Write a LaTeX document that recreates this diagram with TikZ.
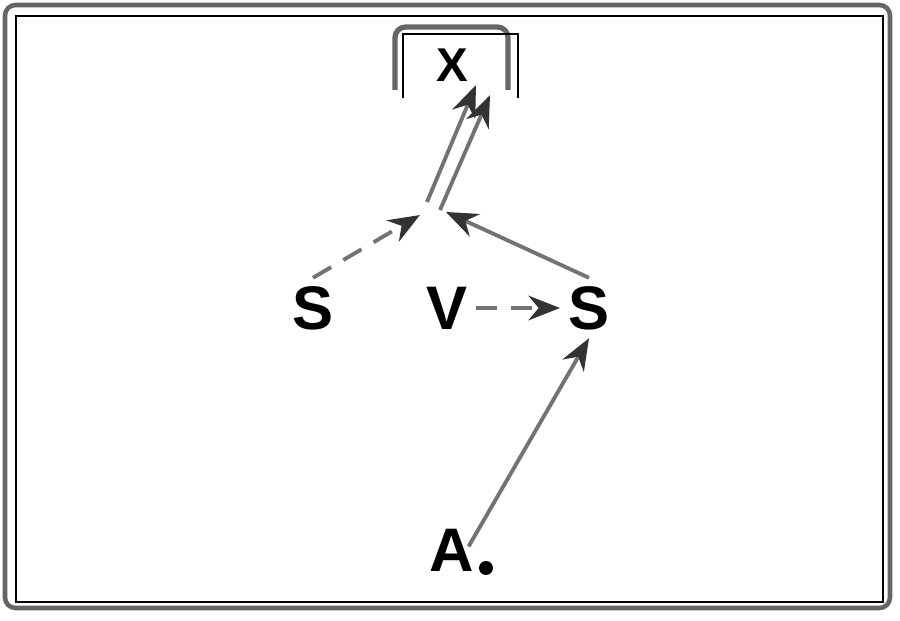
\documentclass[tikz,border=0pt]{standalone}
\usepackage{fontspec}
\setsansfont{Liberation Sans}
\usetikzlibrary{arrows,arrows.meta}
\tikzstyle{lien} = [-{Stealth[length=9pt,width=7pt,black!80]},line width=1.1pt,draw=black!55]
\tikzstyle{pointille} = [lien,dash pattern=on 6pt off 4pt]
\tikzstyle{lettre} = [font=\sffamily\bfseries\fontsize{17.5}{20}\selectfont,inner sep=2pt]

\begin{document}
\begin{tikzpicture}[thick]
	\useasboundingbox (0,0) rectangle (9,6.2);

	% cadre
	\draw[line width=1.3pt,black!60,rounded corners=3pt] (0.05,0.12) rectangle (8.90,6.15);
	\draw[line width=0.8pt] (0.16,0.18) rectangle (8.83,6.04);

	% boite de X
	\draw[line width=1.5pt,black!60,rounded corners=3pt] (3.95,5.30) -- (3.95,5.93) -- (5.08,5.93) -- (5.08,5.30);
	\draw[line width=0.8pt] (4.03,5.22) -- (4.03,5.86) -- (5.18,5.86) -- (5.18,5.22);

	\node[lettre,font=\sffamily\bfseries\fontsize{13.5}{16}\selectfont] (X) at (4.52,5.55) {X};

	\node[lettre] (S1) at (3.13,3.12) {S};
	\node[lettre] (V) at (4.47,3.12) {V};
	\node[lettre] (S2) at (5.89,3.12) {S};
	\node[lettre] (A) at (4.52,0.70) {A};
	\node[circle,fill,inner sep=0pt,minimum size=0.14cm] (pt) at (4.86,0.52) {};

	% jonction
	\coordinate (Jg) at (4.20,4.05);
	\coordinate (Jd) at (4.46,4.08);
	\coordinate (Ja) at (4.27,4.18);
	\coordinate (Jb) at (4.40,4.10);
	\coordinate (Xa) at (4.76,5.35);
	\coordinate (Xb) at (4.90,5.25);

	\draw[pointille] (S1.north) -- (Jg);
	\draw[lien] (S2.north) -- (Jd);
	\draw[lien] (Ja) -- (Xa);
	\draw[lien] (Jb) -- (Xb);

	\draw[pointille] (V) -- (S2);
	\draw[lien] ([xshift=-4pt,yshift=1pt]A.east) -- (S2.south);

\end{tikzpicture}
\end{document}
